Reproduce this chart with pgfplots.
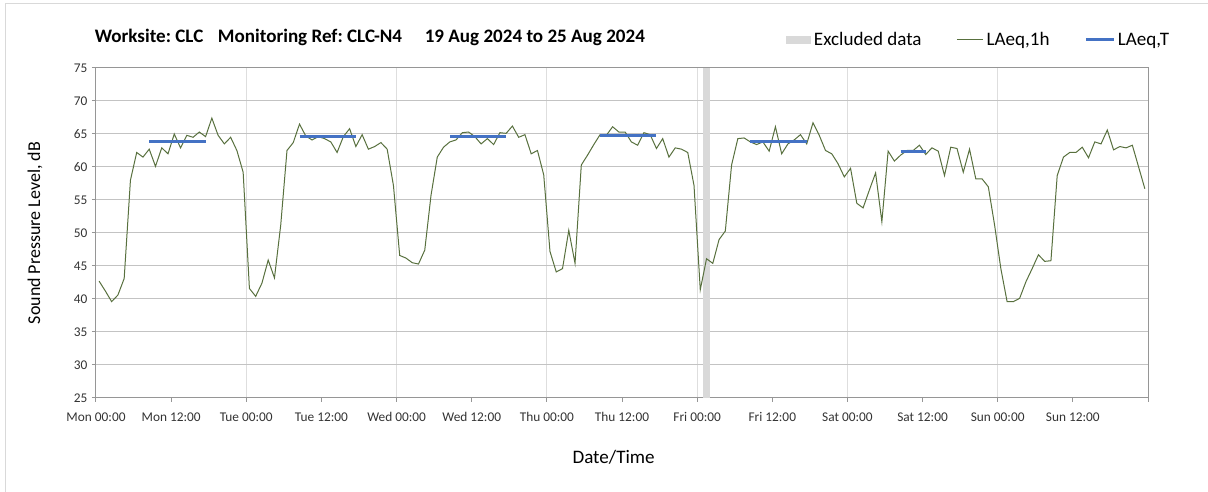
\documentclass[border=0pt]{standalone}
\usepackage{fontspec}
\setmainfont{Carlito}
\usepackage{pgfplots}
\pgfplotsset{compat=1.18}
\usepackage{pgfplotstable}
\definecolor{lineGreen}{RGB}{88,112,62}
\definecolor{lineBlue}{RGB}{68,114,196}
\definecolor{exclGray}{RGB}{217,217,217}
\definecolor{gridGray}{RGB}{195,195,195}
\definecolor{vgridGray}{RGB}{222,222,222}
\definecolor{axisGray}{RGB}{150,150,150}
\definecolor{frameGray}{RGB}{217,217,217}
\frenchspacing

\pgfplotstableread{
t v
0.5 42.7
1.5 41.2
2.5 39.6
3.5 40.6
4.5 43.1
5.5 58.0
6.5 62.2
7.5 61.5
8.5 62.7
9.5 60.1
10.5 62.9
11.5 62.0
12.5 65.0
13.5 62.9
14.5 64.8
15.5 64.5
16.5 65.3
17.5 64.6
18.5 67.4
19.5 64.8
20.5 63.5
21.5 64.5
22.5 62.5
23.5 59.2
24.5 41.6
25.5 40.4
26.5 42.4
27.5 45.9
28.5 43.2
29.5 51.2
30.5 62.5
31.5 63.7
32.5 66.5
33.5 64.7
34.5 64.1
35.5 64.6
36.5 64.3
37.5 63.8
38.5 62.2
39.5 64.6
40.5 65.8
41.5 63.1
42.5 64.9
43.5 62.7
44.5 63.1
45.5 63.7
46.5 62.7
47.5 57.2
48.5 46.6
49.5 46.2
50.5 45.5
51.5 45.3
52.5 47.4
53.5 55.7
54.5 61.5
55.5 63.0
56.5 63.8
57.5 64.1
58.5 65.2
59.5 65.3
60.5 64.6
61.5 63.5
62.5 64.3
63.5 63.4
64.5 65.2
65.5 65.1
66.5 66.2
67.5 64.5
68.5 64.9
69.5 62.0
70.5 62.5
71.5 58.8
72.5 47.2
73.5 44.1
74.5 44.6
75.5 50.4
76.5 45.4
77.5 60.3
78.5 61.8
79.5 63.4
80.5 64.9
81.5 64.8
82.5 66.1
83.5 65.3
84.5 65.3
85.5 63.8
86.5 63.3
87.5 65.2
88.5 64.9
89.5 62.8
90.5 64.3
91.5 61.5
92.5 62.9
93.5 62.7
94.5 62.2
95.5 57.2
96.5 41.4
97.5 46.1
98.5 45.4
99.5 49.0
100.5 50.3
101.5 60.3
102.5 64.3
103.5 64.4
104.5 63.8
105.5 63.4
106.5 63.8
107.5 62.4
108.5 66.1
109.5 62.0
110.5 63.5
111.5 64.1
112.5 64.9
113.5 63.5
114.5 66.7
115.5 64.8
116.5 62.5
117.5 62.0
118.5 60.5
119.5 58.5
120.5 59.8
121.5 54.5
122.5 53.8
123.5 56.5
124.5 59.1
125.5 51.7
126.5 62.4
127.5 60.9
128.5 61.8
129.5 62.5
130.5 62.5
131.5 63.3
132.5 61.9
133.5 62.9
134.5 62.4
135.5 58.7
136.5 63.0
137.5 62.8
138.5 59.2
139.5 62.7
140.5 58.2
141.5 58.2
142.5 57.0
143.5 51.2
144.5 44.6
145.5 39.6
146.5 39.6
147.5 40.1
148.5 42.6
149.5 44.6
150.5 46.7
151.5 45.7
152.5 45.8
153.5 58.7
154.5 61.5
155.5 62.2
156.5 62.2
157.5 63.0
158.5 61.4
159.5 63.8
160.5 63.5
161.5 65.6
162.5 62.6
163.5 63.1
164.5 62.9
165.5 63.3
166.5 60.0
167.5 56.7
}\laeqone

\begin{document}
\begin{tikzpicture}[x=1pt,y=1pt]
\useasboundingbox (0,0) rectangle (906,369);
\draw[frameGray, line width=0.75pt] (3.75,0) -- (3.75,366) -- (906,366);
\begin{axis}[
  at={(72pt,70.5pt)}, anchor=south west,
  scale only axis, width=789pt, height=247.5pt,
  xmin=0, xmax=168, ymin=25, ymax=75,
  xtick={0,12,...,168},
  xticklabels={Mon 00:00,Mon 12:00,Tue 00:00,Tue 12:00,Wed 00:00,Wed 12:00,Thu 00:00,Thu 12:00,Fri 00:00,Fri 12:00,Sat 00:00,Sat 12:00,Sun 00:00,Sun 12:00,{}},
  minor xtick={24,48,...,144},
  minor tick length=0pt,
  xminorgrids, xmajorgrids=false,
  minor grid style={vgridGray, line width=0.75pt},
  ytick={25,30,...,75}, ymajorgrids,
  major grid style={gridGray, line width=0.75pt},
  axis line style={axisGray, line width=0.75pt},
  tick pos=left, tick align=outside, major tick length=3pt,
  major tick style={axisGray, line width=0.75pt},
  ticklabel style={font=\fontsize{10}{12}\selectfont, text=black!80},
  /pgf/number format/assume math mode=true,
  xticklabel style={yshift=-4.5pt},
  ylabel={Sound Pressure Level, dB},
  xlabel={Date/Time},
  ylabel style={at={(axis description cs:-0.058,0.5)}, anchor=center, font=\fontsize{13.5}{15}\selectfont},
  xlabel style={at={(axis description cs:0.492,-0.179)}, anchor=center, font=\fontsize{14.3}{16}\selectfont},
  title={Worksite: CLC\hspace{11pt}Monitoring Ref: CLC-N4\hspace{17pt}19 Aug 2024 to 25 Aug 2024},
  title style={at={(axis description cs:0,1.094)}, anchor=west, yshift=-6pt, xshift=-1pt, inner sep=0pt, font=\fontsize{14.3}{16}\selectfont\bfseries},
  legend columns=3,
  legend style={at={(axis description cs:1.023,1.085)}, anchor=east, draw=none, fill=none,
    font=\fontsize{14.3}{16}\selectfont, inner sep=0pt,
    /tikz/every even column/.append style={column sep=24pt}},
  legend cell align=left,
  clip=true,
]
\addplot[fill=exclGray, draw=none,
  legend image code/.code={\fill[exclGray] (0pt,-3pt) rectangle (19pt,3pt);}]
  coordinates {(97,75) (98,75)} \closedcycle;
\addlegendentry{Excluded data}
\addplot[lineGreen, line width=0.75pt,
  legend image code/.code={\draw[lineGreen,line width=0.75pt] (0pt,0pt) -- (20pt,0pt);}]
  table[x=t, y=v] {\laeqone};
\addlegendentry{LAeq,1h}
\addplot[lineBlue, line width=2.2pt,
  legend image code/.code={\draw[lineBlue,line width=2.2pt] (0pt,0pt) -- (21pt,0pt);}]
  coordinates {(8.5,63.8) (17.5,63.8)};
\addlegendentry{LAeq,T}
\addplot[lineBlue, line width=2.2pt, forget plot] coordinates {(32.5,64.6) (41.5,64.6)};
\addplot[lineBlue, line width=2.2pt, forget plot] coordinates {(56.5,64.6) (65.5,64.6)};
\addplot[lineBlue, line width=2.2pt, forget plot] coordinates {(80.5,64.8) (89.5,64.8)};
\addplot[lineBlue, line width=2.2pt, forget plot] coordinates {(104.5,63.8) (113.5,63.8)};
\addplot[lineBlue, line width=2.2pt, forget plot] coordinates {(128.5,62.4) (132.5,62.4)};
\end{axis}
\end{tikzpicture}
\end{document}
